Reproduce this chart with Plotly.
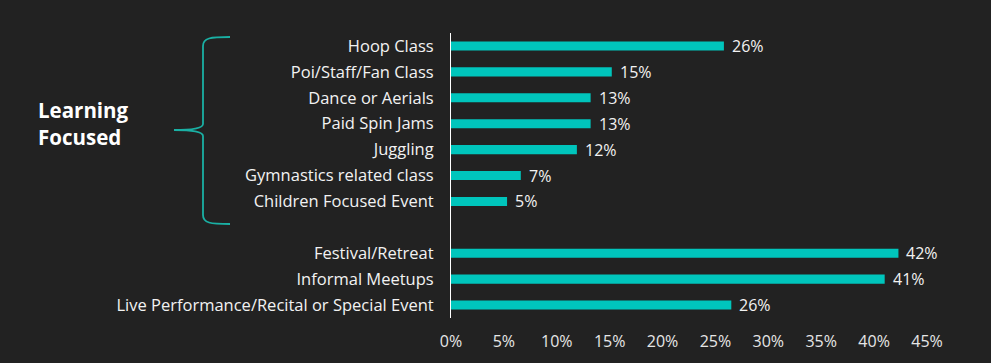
import plotly.graph_objects as go

categories = [
    "Hoop Class",
    "Poi/Staff/Fan Class",
    "Dance or Aerials",
    "Paid Spin Jams",
    "Juggling",
    "Gymnastics related class",
    "Children Focused Event",
    "Festival/Retreat",
    "Informal Meetups",
    "Live Performance/Recital or Special Event",
]
values = [25.8, 15.2, 13.2, 13.2, 11.9, 6.6, 5.3, 42.3, 41.0, 26.5]
labels = ["26%", "15%", "13%", "13%", "12%", "7%", "5%", "42%", "41%", "26%"]
# slot index for each category (slot 7 is an empty spacer row)
slots = [0, 1, 2, 3, 4, 5, 6, 8, 9, 10]
x_ticks = [0, 5, 10, 15, 20, 25, 30, 35, 40, 45]
x_ticktext = [f"{v}%" for v in x_ticks]
group_label = "Learning<br>Focused"

BG = "#222222"
TEAL = "#00C5BC"
FONT = "Open Sans"

fig = go.Figure(
    go.Bar(
        x=values,
        y=slots,
        orientation="h",
        marker=dict(color=TEAL, line=dict(width=0)),
        width=0.35,
        hoverinfo="skip",
    )
)

L, R, T, B = 451, 64, 33, 45
W, H = 991, 363
pw, ph = W - L - R, H - T - B


def px(xp):
    return (xp - L) / pw


def py(yp):
    return (H - B - yp) / ph


brace = (
    f"M {px(230)},{py(37)} "
    f"C {px(210)},{py(37)} {px(203)},{py(38)} {px(203)},{py(46)} "
    f"L {px(203)},{py(124)} "
    f"C {px(203)},{py(129)} {px(190)},{py(130)} {px(174)},{py(130)} "
    f"C {px(190)},{py(130)} {px(203)},{py(131)} {px(203)},{py(136)} "
    f"L {px(203)},{py(215)} "
    f"C {px(203)},{py(223)} {px(210)},{py(224)} {px(230)},{py(224)}"
)

annotations = [
    dict(
        text=f"<b>{group_label}</b>",
        xref="paper",
        yref="paper",
        x=px(36),
        y=py(123),
        xanchor="left",
        yanchor="middle",
        align="left",
        showarrow=False,
        font=dict(size=20.5, color="#FFFFFF", family=FONT),
    )
]
for v, s, t in zip(values, slots, labels):
    annotations.append(
        dict(
            text=t,
            x=v,
            y=s,
            xref="x",
            yref="y",
            xanchor="left",
            yanchor="middle",
            xshift=6,
            showarrow=False,
            font=dict(size=16, color="#F2F2F2", family=FONT),
        )
    )

fig.update_layout(
    width=W,
    height=H,
    margin=dict(l=L, r=R, t=T, b=B),
    paper_bgcolor=BG,
    plot_bgcolor=BG,
    showlegend=False,
    font=dict(family=FONT, color="#F2F2F2", size=16),
    xaxis=dict(
        range=[0, 45],
        tickvals=x_ticks,
        ticktext=x_ticktext,
        showgrid=False,
        zeroline=False,
        showline=False,
        ticks="",
        ticklabelstandoff=12,
        tickfont=dict(size=16, color="#E6E6E6", family=FONT),
        fixedrange=True,
    ),
    yaxis=dict(
        range=[10.5, -0.5],
        tickvals=slots,
        ticktext=categories,
        showgrid=False,
        zeroline=False,
        showline=True,
        linecolor="#FFFFFF",
        linewidth=1,
        ticks="",
        ticklabelstandoff=13,
        tickfont=dict(size=16.5, color="#F2F2F2", family=FONT),
        fixedrange=True,
    ),
    shapes=[
        dict(
            type="path",
            xref="paper",
            yref="paper",
            path=brace,
            line=dict(color="#1AB0A4", width=1.8),
        )
    ],
    annotations=annotations,
)

fig.write_html(
    "out.html",
    config={"displayModeBar": False},
    post_script="document.body.style.margin='0';document.body.style.background='#222222';",
)
